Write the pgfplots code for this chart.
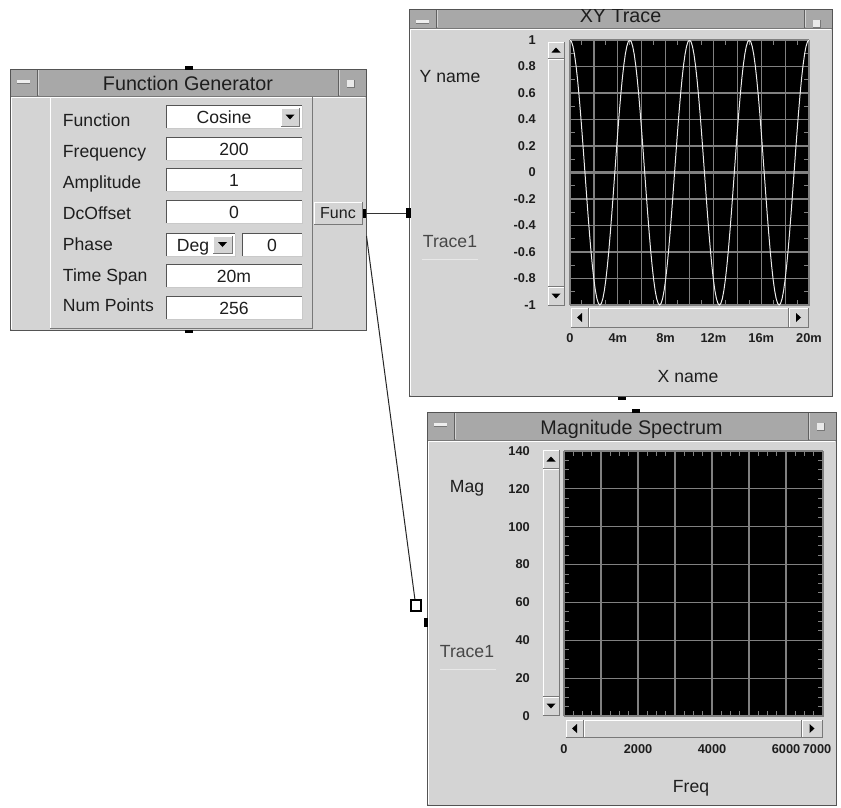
\documentclass[border=0pt]{standalone}
\usepackage{pgfplots}
\pgfplotsset{compat=1.18}
\usepackage{fontspec}
\setmainfont{Liberation Sans}

\definecolor{pg}{RGB}{212,212,212}
\definecolor{tb}{RGB}{168,168,168}
\definecolor{dk}{RGB}{120,120,120}
\definecolor{grd}{RGB}{128,128,128}
\definecolor{txt}{RGB}{30,30,30}
\definecolor{trc}{RGB}{232,232,232}

\newcommand{\lbl}{\fontsize{13.2}{15}\selectfont}
\newcommand{\ttl}{\fontsize{14.8}{17}\selectfont}
\newcommand{\tkl}{\fontsize{9.6}{11}\selectfont\bfseries}
\newcommand{\fnc}{\fontsize{12}{13}\selectfont}

% raised box: x1 y1 x2 y2 (y grows downward)
\newcommand{\raised}[4]{%
  \fill[pg] (#1,#2) rectangle (#3,#4);
  \draw[white] (#1,#4) -- (#1,#2) -- (#3,#2);
  \draw[dk] (#1,#4) -- (#3,#4) -- (#3,#2);}
% white entry field: x1 ytop x2 text cx
\newcommand{\fld}[5]{%
  \fill[white] (#1,#2) rectangle (#3,#2+23);
  \draw[dk!70!black] (#1,#2+23) -- (#1,#2) -- (#3,#2);
  \draw[dk!40!white] (#1+1,#2+23) -- (#3,#2+23) -- (#3,#2+1);
  \node[font=\lbl,text=txt,anchor=base] at (#5,#2+18) {#4};}
% window: x1 y1 x2 y2 titlebarbottom title
\newcommand{\panel}[6]{%
  \fill[pg] (#1,#2) rectangle (#3,#4);
  \fill[tb] (#1,#2) rectangle (#3,#5);
  \draw[dk!80!black] (#1+27,#2) -- (#1+27,#5);
  \draw[white!50!tb] (#1+28,#2+1) -- (#1+28,#5-1);
  \draw[dk!80!black] (#3-28,#2) -- (#3-28,#5);
  \draw[white!50!tb] (#3-27,#2+1) -- (#3-27,#5-1);
  \fill[white!80!tb] (#1+7,#2+11) rectangle (#1+20,#2+14);
  \draw[dk] (#1+7,#2+14.5) -- (#1+20,#2+14.5);
  \fill[white!75!tb] (#3-19,#2+11) rectangle (#3-12,#2+18);
  \draw[dk] (#3-19,#2+18) -- (#3-12,#2+18) -- (#3-12,#2+11);
  \draw[dk] (#1,#5) -- (#3,#5);
  \draw[white] (#1+1.5,#4-1.5) -- (#1+1.5,#5+1.5) -- (#3-1.5,#5+1.5);
  \draw[dk!70!black] (#1,#2) rectangle (#3,#4);
  \node[font=\ttl,text=txt,anchor=base] at ({(#1+#3)/2},#5-5.5) {#6};}
\newcommand{\up}[2]{\fill[black] (#1-4.5,#2+2.5) -- (#1+4.5,#2+2.5) -- (#1,#2-2.5) -- cycle;}
\newcommand{\dn}[2]{\fill[black] (#1-4.5,#2-2.5) -- (#1+4.5,#2-2.5) -- (#1,#2+2.5) -- cycle;}
\newcommand{\lf}[2]{\fill[black] (#1+2.5,#2-4.5) -- (#1+2.5,#2+4.5) -- (#1-2.5,#2) -- cycle;}
\newcommand{\rt}[2]{\fill[black] (#1-2.5,#2-4.5) -- (#1-2.5,#2+4.5) -- (#1+2.5,#2) -- cycle;}

\pgfplotsset{vee/.style={
  scale only axis,
  axis background/.style={fill=black},
  axis line style={grd},
  grid=major,
  major grid style={grd, line width=0.9pt},
  tick align=inside,
  major tick length=0pt,
  minor tick length=3.75pt,
  minor tick style={grd, line width=0.75pt},
  ticklabel style={font=\tkl, text=txt, inner sep=0pt},
  xticklabel style={anchor=center, yshift=-25pt},
  yticklabel style={anchor=east, xshift=-25.5pt},
}}

\begin{document}
\begin{tikzpicture}[x=0.75pt,y=-0.75pt,line width=0.75pt]
\useasboundingbox (0,0) rectangle (841,807);
\clip (0,0) rectangle (841,807);
\fill[white] (0,0) rectangle (841,807);

% ---------------- Function Generator ----------------
\panel{10}{69}{366}{330}{96}{Function Generator}
\draw[white] (50,328) -- (50,97);
\draw[dk] (312,97) -- (312,328) -- (50,328);
\node[font=\lbl,text=txt,anchor=base west] at (58,126) {Function};
\node[font=\lbl,text=txt,anchor=base west] at (58,157) {Frequency};
\node[font=\lbl,text=txt,anchor=base west] at (58,188) {Amplitude};
\node[font=\lbl,text=txt,anchor=base west] at (58,219) {DcOffset};
\node[font=\lbl,text=txt,anchor=base west] at (58,250) {Phase};
\node[font=\lbl,text=txt,anchor=base west] at (58,281) {Time Span};
\node[font=\lbl,text=txt,anchor=base west] at (58,311) {Num Points};
\fld{166}{105}{302}{Cosine}{224}
\raised{281}{108}{299}{126}\dn{290}{117}
\fld{166}{137}{302}{200}{234}
\fld{166}{168}{302}{1}{234}
\fld{166}{200}{302}{0}{234}
\fld{166}{233}{235}{}{200}
\node[font=\lbl,text=txt,anchor=base west] at (172,251) {Deg};
\raised{213}{236}{232}{253}\dn{222.5}{244.5}
\fld{242}{233}{302}{0}{272}
\fld{166}{264}{302}{20m}{234}
\fld{166}{296}{302}{256}{234}
\raised{314}{202}{362}{224}
\node[font=\fnc,text=txt,anchor=base] at (338,218) {Func};
% wiring and pins
\fill[black] (185,66) rectangle (193,69.5);
\fill[black] (185,329.5) rectangle (193,333);
\fill[black] (362.5,209) rectangle (366,218);
\draw[black!80] (366,213) -- (407,213);
\draw[black!85] (366.5,236) -- (415,600);

% ---------------- XY Trace ----------------
\panel{409}{9}{832}{396}{28}{XY Trace}
\fill[white] (409,0) rectangle (832,8.5);
\fill[black] (406,208) rectangle (410.5,218);
\fill[black] (618,396.5) rectangle (626,400);
\node[font=\lbl,text=txt,anchor=base] at (450,82) {Y name};
\node[font=\lbl,text=black!72,anchor=base] at (450,247) {Trace1};
\draw[trc] (422,259) -- (478,259);
\node[font=\lbl,text=txt,anchor=base] at (688,382) {X name};
\raised{548}{42}{564}{58}\up{556}{50}
\raised{548}{59}{564}{286}
\raised{548}{287}{564}{305}\dn{556}{296}
\raised{571}{308}{588}{327}\lf{579.5}{317.5}
\raised{589}{308}{788}{327}
\raised{789}{308}{808}{327}\rt{798.5}{317.5}

% ---------------- Magnitude Spectrum ----------------
\panel{427}{412}{836}{805}{440}{Magnitude Spectrum}
\fill[black] (632,409) rectangle (640,412.5);
\fill[black] (424,618) rectangle (427.5,627);
\draw[black, line width=1.8pt] (411,600) rectangle (421,611);
\node[font=\lbl,text=txt,anchor=base] at (467,492) {Mag};
\node[font=\lbl,text=black!72,anchor=base] at (467,657) {Trace1};
\draw[trc] (440,669) -- (496,669);
\node[font=\lbl,text=txt,anchor=base] at (691,792) {Freq};
\raised{543}{450}{559}{468}\up{551}{459}
\raised{543}{469}{559}{696}
\raised{543}{697}{559}{715}\dn{551}{706}
\raised{566}{720}{583}{737}\lf{574.5}{728.5}
\raised{584}{720}{801}{737}
\raised{802}{720}{822}{737}\rt{812}{728.5}

\coordinate (xyo) at (570,305);
\coordinate (mgo) at (564,716);

\begin{axis}[vee,
  at={(xyo)}, anchor=south west,
  width=179.25pt, height=198.75pt,
  xmin=0, xmax=20, ymin=-1, ymax=1,
  xtick={0,2,4,6,8,10,12,14,16,18,20},
  xticklabels={0,,4m,,8m,,12m,,16m,,20m},
  ytick={-1,-0.8,-0.6,-0.4,-0.2,0,0.2,0.4,0.6,0.8,1},
  yticklabels={-1,-0.8,-0.6,-0.4,-0.2,0,0.2,0.4,0.6,0.8,1},
  minor x tick num=1, minor y tick num=1,
]
\addplot[grd, line width=2.2pt] coordinates {(0,0) (20,0)};
\addplot[white!85!gray, line width=0.75pt] coordinates {
(0,1) (0.125,0.9877) (0.25,0.9511) (0.375,0.891) (0.5,0.809) (0.625,0.7071) (0.75,0.5878) (0.875,0.454) (1,0.309) (1.125,0.1564)
(1.25,0) (1.375,-0.1564) (1.5,-0.309) (1.625,-0.454) (1.75,-0.5878) (1.875,-0.7071) (2,-0.809) (2.125,-0.891) (2.25,-0.9511) (2.375,-0.9877)
(2.5,-1) (2.625,-0.9877) (2.75,-0.9511) (2.875,-0.891) (3,-0.809) (3.125,-0.7071) (3.25,-0.5878) (3.375,-0.454) (3.5,-0.309) (3.625,-0.1564)
(3.75,0) (3.875,0.1564) (4,0.309) (4.125,0.454) (4.25,0.5878) (4.375,0.7071) (4.5,0.809) (4.625,0.891) (4.75,0.9511) (4.875,0.9877)
(5,1) (5.125,0.9877) (5.25,0.9511) (5.375,0.891) (5.5,0.809) (5.625,0.7071) (5.75,0.5878) (5.875,0.454) (6,0.309) (6.125,0.1564)
(6.25,0) (6.375,-0.1564) (6.5,-0.309) (6.625,-0.454) (6.75,-0.5878) (6.875,-0.7071) (7,-0.809) (7.125,-0.891) (7.25,-0.9511) (7.375,-0.9877)
(7.5,-1) (7.625,-0.9877) (7.75,-0.9511) (7.875,-0.891) (8,-0.809) (8.125,-0.7071) (8.25,-0.5878) (8.375,-0.454) (8.5,-0.309) (8.625,-0.1564)
(8.75,0) (8.875,0.1564) (9,0.309) (9.125,0.454) (9.25,0.5878) (9.375,0.7071) (9.5,0.809) (9.625,0.891) (9.75,0.9511) (9.875,0.9877)
(10,1) (10.125,0.9877) (10.25,0.9511) (10.375,0.891) (10.5,0.809) (10.625,0.7071) (10.75,0.5878) (10.875,0.454) (11,0.309) (11.125,0.1564)
(11.25,0) (11.375,-0.1564) (11.5,-0.309) (11.625,-0.454) (11.75,-0.5878) (11.875,-0.7071) (12,-0.809) (12.125,-0.891) (12.25,-0.9511) (12.375,-0.9877)
(12.5,-1) (12.625,-0.9877) (12.75,-0.9511) (12.875,-0.891) (13,-0.809) (13.125,-0.7071) (13.25,-0.5878) (13.375,-0.454) (13.5,-0.309) (13.625,-0.1564)
(13.75,0) (13.875,0.1564) (14,0.309) (14.125,0.454) (14.25,0.5878) (14.375,0.7071) (14.5,0.809) (14.625,0.891) (14.75,0.9511) (14.875,0.9877)
(15,1) (15.125,0.9877) (15.25,0.9511) (15.375,0.891) (15.5,0.809) (15.625,0.7071) (15.75,0.5878) (15.875,0.454) (16,0.309) (16.125,0.1564)
(16.25,0) (16.375,-0.1564) (16.5,-0.309) (16.625,-0.454) (16.75,-0.5878) (16.875,-0.7071) (17,-0.809) (17.125,-0.891) (17.25,-0.9511) (17.375,-0.9877)
(17.5,-1) (17.625,-0.9877) (17.75,-0.9511) (17.875,-0.891) (18,-0.809) (18.125,-0.7071) (18.25,-0.5878) (18.375,-0.454) (18.5,-0.309) (18.625,-0.1564)
(18.75,0) (18.875,0.1564) (19,0.309) (19.125,0.454) (19.25,0.5878) (19.375,0.7071) (19.5,0.809) (19.625,0.891) (19.75,0.9511) (19.875,0.9877)
(20,1)
};
\end{axis}

\begin{axis}[vee,
  at={(mgo)}, anchor=south west,
  width=194.25pt, height=198.75pt,
  xmin=0, xmax=7000, ymin=0, ymax=140,
  xtick={0,1000,2000,3000,4000,5000,6000,7000},
  xticklabels={0,,2000,,4000,,6000,\hspace*{-9pt}7000},
  ytick={0,20,40,60,80,100,120,140},
  yticklabels={0,20,40,60,80,100,120,140},
  minor x tick num=3, minor y tick num=3,
]
\end{axis}
\end{tikzpicture}
\end{document}
